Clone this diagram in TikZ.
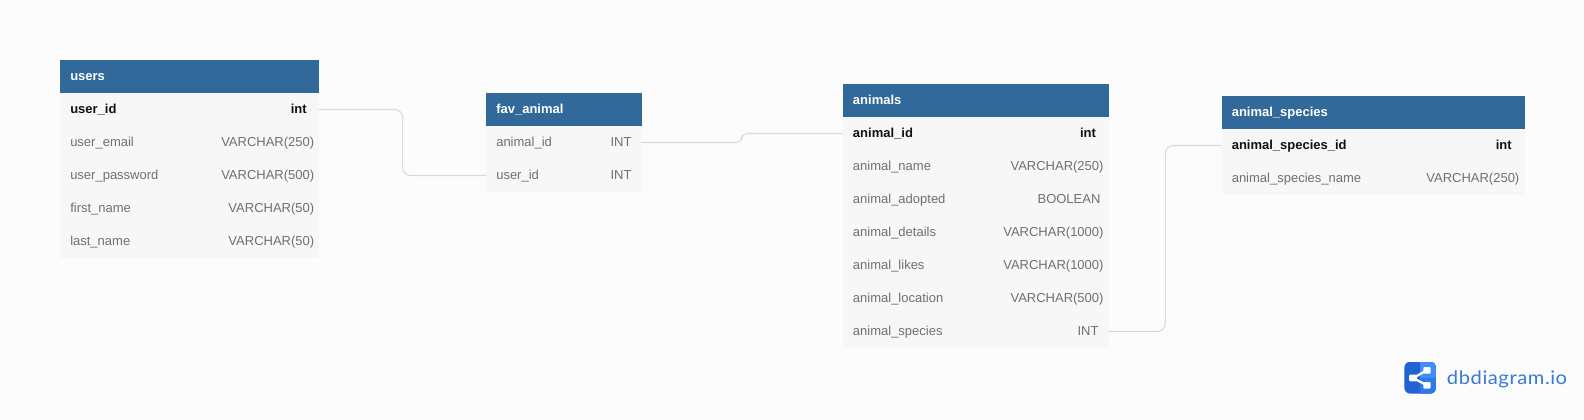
\documentclass[tikz,border=0pt]{standalone}
\usepackage{fontspec}
\setmainfont{Liberation Sans}
\newfontfamily\logofont[FakeStretch=1.08,LetterSpace=3]{Lato}
\definecolor{pagebg}{HTML}{FCFCFC}
\definecolor{headblue}{HTML}{31699A}
\definecolor{rowbg}{HTML}{F7F7F7}
\definecolor{keyink}{HTML}{111111}
\definecolor{fieldink}{HTML}{707070}
\definecolor{connink}{HTML}{DADADA}
\definecolor{logodark}{HTML}{2362D2}
\definecolor{logomid}{HTML}{2F78E8}
\definecolor{logolight}{HTML}{3F8EF8}
\definecolor{logoink}{HTML}{3A78DC}
\tikzset{
  x=0.75pt, y=-0.75pt,
  headbox/.style={fill=headblue, anchor=north west, inner sep=0pt, outer sep=0pt, minimum height=24.75pt},
  rowbox/.style={fill=rowbg, anchor=north west, inner sep=0pt, outer sep=0pt, minimum height=24.75pt},
  headtext/.style={anchor=base west, inner sep=0pt, text=white, font=\fontsize{9.75}{12}\selectfont\bfseries},
  keytext/.style={anchor=base west, inner sep=0pt, text=keyink, font=\fontsize{9.75}{12}\selectfont\bfseries},
  fieldtext/.style={anchor=base west, inner sep=0pt, text=fieldink, font=\fontsize{9.75}{12}\selectfont},
  keytype/.style={anchor=base east, inner sep=0pt, text=keyink, font=\fontsize{9.75}{12}\selectfont\bfseries},
  fieldtype/.style={anchor=base east, inner sep=0pt, text=fieldink, font=\fontsize{9.75}{12}\selectfont},
  conn/.style={draw=connink, line width=0.8pt, rounded corners=6pt},
}
% \tblhead{name}{x}{y}{width px}{title}
\newcommand{\tblhead}[5]{%
  \node[headbox, minimum width=#4*0.75pt] (#1) at (#2,#3) {};
  \node[headtext] (#1t) at ([xshift=7.5pt,yshift=-3.2pt]#1.west) {#5};
}
% \tblrow{name}{above}{width px}{field}{type}{right inset pt}{kind}
\newcommand{\tblrow}[7]{%
  \node[rowbox, minimum width=#3*0.75pt] (#1) at (#2.south west) {};
  \node[#7text] (#1f) at ([xshift=7.5pt,yshift=-3pt]#1.west) {#4};
  \node[#7type] (#1v) at ([xshift=-#6,yshift=-3pt]#1.east) {#5};
}
\begin{document}
\begin{tikzpicture}
\useasboundingbox (0,0) rectangle (1584,420);
\fill[pagebg] (0,0) rectangle (1584,420);

% users
\tblhead{users}{60}{60}{259}{users}
\tblrow{ua}{users}{259}{user\_id}{int}{9pt}{key}
\tblrow{ub}{ua}{259}{user\_email}{VARCHAR(250)}{3.4pt}{field}
\tblrow{uc}{ub}{259}{user\_password}{VARCHAR(500)}{3.4pt}{field}
\tblrow{ud}{uc}{259}{first\_name}{VARCHAR(50)}{3.4pt}{field}
\tblrow{ue}{ud}{259}{last\_name}{VARCHAR(50)}{3.4pt}{field}

% fav_animal
\tblhead{fav}{486}{93}{155.7}{fav\_animal}
\tblrow{fa}{fav}{155.7}{animal\_id}{INT}{7.5pt}{field}
\tblrow{fb}{fa}{155.7}{user\_id}{INT}{7.5pt}{field}

% animals
\tblhead{ani}{842.7}{84}{266}{animals}
\tblrow{aa}{ani}{266}{animal\_id}{int}{9.4pt}{key}
\tblrow{ab}{aa}{266}{animal\_name}{VARCHAR(250)}{3.7pt}{field}
\tblrow{ac}{ab}{266}{animal\_adopted}{BOOLEAN}{6pt}{field}
\tblrow{ad}{ac}{266}{animal\_details}{VARCHAR(1000)}{3.7pt}{field}
\tblrow{ae}{ad}{266}{animal\_likes}{VARCHAR(1000)}{3.7pt}{field}
\tblrow{af}{ae}{266}{animal\_location}{VARCHAR(500)}{3.7pt}{field}
\tblrow{ag}{af}{266}{animal\_species}{INT}{7.5pt}{field}

% animal_species
\tblhead{spe}{1221.5}{96}{303}{animal\_species}
\tblrow{sa}{spe}{303}{animal\_species\_id}{int}{9.4pt}{key}
\tblrow{sb}{sa}{303}{animal\_species\_name}{VARCHAR(250)}{3.7pt}{field}

% connectors
\coordinate (c1) at (402.7,0);
\coordinate (c2) at (741.7,0);
\coordinate (c3) at (1165.3,0);
\draw[conn] (ua.east) -- (ua.east -| c1) -- (fb.west -| c1) -- (fb.west);
\draw[conn, rounded corners=4pt] (fa.east) -- (fa.east -| c2) -- (aa.west -| c2) -- (aa.west);
\draw[conn] (ag.east) -- (ag.east -| c3) -- (sa.west -| c3) -- (sa.west);

% logo
\begin{scope}
  \clip[rounded corners=4.5pt] (1404.3,361.7) rectangle (1436,393.7);
  \fill[logodark] (1404.3,361.7) rectangle (1436,393.7);
  \fill[logomid] (1420.3,361.7) rectangle (1436,393.7);
  \fill[logolight] (1420.3,361.7) rectangle (1436,377.7);
\end{scope}
\draw[white, line width=1.7pt] (1413,378) -- (1427,370.3) (1413,378) -- (1427,385.3);
\fill[white, rounded corners=0.8pt] (1409,374.7) rectangle (1417,381.3);
\fill[white, rounded corners=0.8pt] (1423.3,367) rectangle (1430.7,373.7);
\fill[white, rounded corners=0.8pt] (1423.3,382) rectangle (1430.7,388.7);
\node[anchor=base west, inner sep=0pt, text=logoink, font=\logofont\fontsize{14}{16}\selectfont] (logo) at (1446.7,384.6) {dbdiagram.io};
\end{tikzpicture}
\end{document}
